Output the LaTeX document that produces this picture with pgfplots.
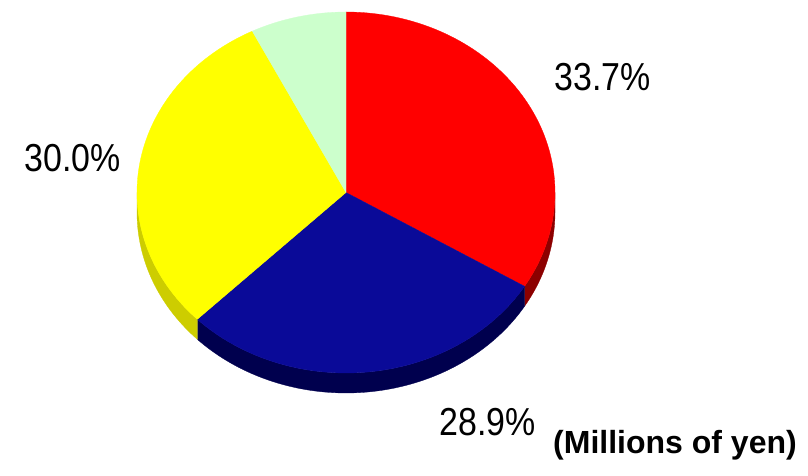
\documentclass[border=0pt]{standalone}
\usepackage{pgfplots}
\pgfplotsset{compat=1.18}
\usepgfplotslibrary{fillbetween}
\usepackage{fontspec}
\setmainfont{Liberation Sans}
\newfontfamily\narrowfont[FakeStretch=0.87]{Liberation Sans}
\definecolor{cred}{RGB}{255,0,0}
\definecolor{dred}{RGB}{140,0,0}
\definecolor{cblue}{RGB}{10,10,152}
\definecolor{dblue}{RGB}{0,0,78}
\definecolor{cyel}{RGB}{255,255,0}
\definecolor{dyel}{RGB}{205,205,0}
\definecolor{cgreen}{RGB}{204,255,204}
% shares of the pie (percent)
\def\shareA{33.7} % red
\def\shareB{28.9} % blue
\def\shareC{30.0} % yellow
\def\shareD{7.4}  % light green
\def\cx{346}
\def\cy{283.5}
\def\rx{209}
\def\ry{180.5}
\def\dep{20}
\begin{document}
\begin{tikzpicture}
\pgfmathsetmacro\aA{90}
\pgfmathsetmacro\aB{90-3.6*\shareA}
\pgfmathsetmacro\aC{\aB-3.6*\shareB}
\pgfmathsetmacro\aD{\aC-3.6*\shareC}
\pgfmathsetmacro\aE{\aD-3.6*\shareD}
\begin{axis}[
  width=808pt, height=476pt, scale only axis,
  xmin=0, xmax=808, ymin=0, ymax=476,
  hide axis, clip=false,
]
% --- sides (visible lower half) ---
\addplot[draw=none, name path=rt, domain=\aB:0, samples=40, variable=\t] ({\cx+\rx*cos(\t)},{\cy+\ry*sin(\t)});
\addplot[draw=none, name path=rb, domain=\aB:0, samples=40, variable=\t] ({\cx+\rx*cos(\t)},{\cy+\ry*sin(\t)-\dep});
\addplot[fill=dred, draw=dred, line width=0.3pt] fill between[of=rt and rb];
\addplot[draw=none, name path=bt, domain=\aC:\aB, samples=80, variable=\t] ({\cx+\rx*cos(\t)},{\cy+\ry*sin(\t)});
\addplot[draw=none, name path=bb, domain=\aC:\aB, samples=80, variable=\t] ({\cx+\rx*cos(\t)},{\cy+\ry*sin(\t)-\dep});
\addplot[fill=dblue, draw=dblue, line width=0.3pt] fill between[of=bt and bb];
\addplot[draw=none, name path=yt, domain=-180:\aC, samples=40, variable=\t] ({\cx+\rx*cos(\t)},{\cy+\ry*sin(\t)});
\addplot[draw=none, name path=yb, domain=-180:\aC, samples=40, variable=\t] ({\cx+\rx*cos(\t)},{\cy+\ry*sin(\t)-\dep});
\addplot[fill=dyel, draw=dyel, line width=0.3pt] fill between[of=yt and yb];
% --- top faces ---
\addplot[fill=cred, draw=cred, line width=0.3pt, domain=\aB:\aA, samples=100, variable=\t]
  ({\cx+\rx*cos(\t)},{\cy+\ry*sin(\t)}) -- (axis cs:\cx,\cy) -- cycle;
\addplot[fill=cblue, draw=cblue, line width=0.3pt, domain=\aC:\aB, samples=100, variable=\t]
  ({\cx+\rx*cos(\t)},{\cy+\ry*sin(\t)}) -- (axis cs:\cx,\cy) -- cycle;
\addplot[fill=cyel, draw=cyel, line width=0.3pt, domain=\aD:\aC, samples=100, variable=\t]
  ({\cx+\rx*cos(\t)},{\cy+\ry*sin(\t)}) -- (axis cs:\cx,\cy) -- cycle;
\addplot[fill=cgreen, draw=cgreen, line width=0.3pt, domain=\aE:\aD, samples=40, variable=\t]
  ({\cx+\rx*cos(\t)},{\cy+\ry*sin(\t)}) -- (axis cs:\cx,\cy) -- cycle;
% --- labels ---
\node[inner sep=0pt, font=\narrowfont\fontsize{39}{40}\selectfont] at (axis cs:602.5,399) {33.7\%};
\node[inner sep=0pt, font=\narrowfont\fontsize{39}{40}\selectfont] at (axis cs:72.5,317.5) {30.0\%};
\node[inner sep=0pt, font=\narrowfont\fontsize{39}{40}\selectfont] at (axis cs:487.5,53.5) {28.9\%};
\node[inner sep=0pt, font=\bfseries\fontsize{32}{34}\selectfont] at (axis cs:675,31) {(Millions of yen)};
\end{axis}
\path (current axis.south west) rectangle (current axis.north east);
\end{tikzpicture}
\end{document}
